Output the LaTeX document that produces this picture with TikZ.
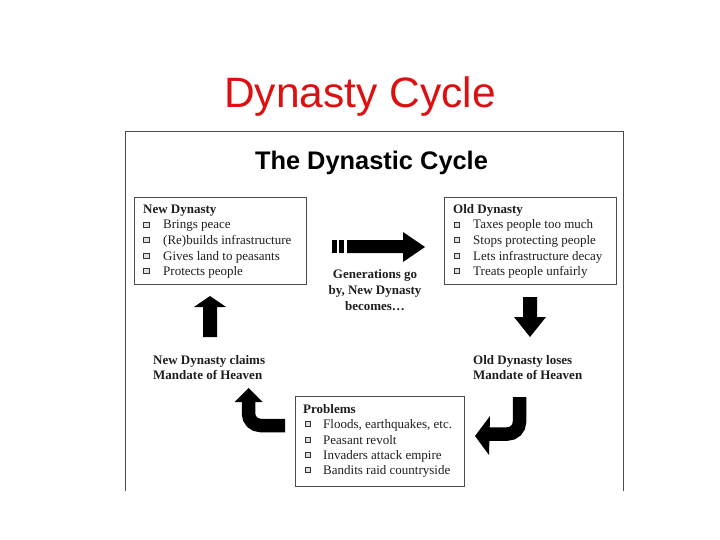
\documentclass[tikz,border=0pt]{standalone}
\usepackage{fontspec}
\setmainfont{Liberation Serif}
\newfontfamily\arialf{Liberation Sans}
\definecolor{titlered}{RGB}{220,16,16}
\definecolor{inkc}{RGB}{30,30,30}
\begin{document}
\begin{tikzpicture}[x=1pt,y=-1pt,
  box/.style={draw=black!70, line width=0.9pt, fill=white, inner sep=0pt},
  txt/.style={anchor=base west, inner sep=0pt, font=\fontsize{13}{15}\selectfont, text=inkc},
  hd/.style={txt, font=\fontsize{13}{15}\selectfont\bfseries},
  lbl/.style={anchor=base, inner sep=0pt, font=\fontsize{13}{15}\selectfont\bfseries, text=inkc},
  lblw/.style={lbl, anchor=base west},
  bul/.style={draw=black!80, fill=black!12, line width=0.9pt, minimum size=5.5pt, inner sep=0pt},
  blk/.style={fill=black},
  bentshaft/.style={draw=black, line width=13.5pt, rounded corners=12pt}]
\useasboundingbox (0,0) rectangle (720,540);

% slide title
\node[anchor=base, inner sep=0pt, font=\arialf\fontsize{42.5}{50}\selectfont, text=titlered] (slidetitle) at (360,108) {Dynasty Cycle};

% frame of the picture
\draw[black!70, line width=1pt] (125,491) -- (125,131.5) -- (623,131.5) -- (623,491);

% inner title
\node[anchor=base, inner sep=0pt, font=\arialf\bfseries\fontsize{25.4}{30}\selectfont] (maintitle) at (371.5,170) {The Dynastic Cycle};

% boxes
\node[box, minimum width=172pt, minimum height=87pt] (newbox) at (220,240.5) {};
\node[box, minimum width=172pt, minimum height=87pt] (oldbox) at (530,240.5) {};
\node[box, minimum width=169pt, minimum height=90pt] (probbox) at (379.5,441) {};

% New Dynasty
\node[hd] (newhd) at (143,214) {New Dynasty};
\node[bul] (nb1) at (146.5,225) {}; \node[txt] (n1) at (163,229) {Brings peace};
\node[bul] (nb2) at (146.5,240) {}; \node[txt] (n2) at (163,244) {(Re)builds infrastructure};
\node[bul] (nb3) at (146.5,256) {}; \node[txt] (n3) at (163,260) {Gives land to peasants};
\node[bul] (nb4) at (146.5,271) {}; \node[txt] (n4) at (163,275) {Protects people};

% Old Dynasty
\node[hd] (oldhd) at (453,214) {Old Dynasty};
\node[bul] (ob1) at (457,225) {}; \node[txt] (o1) at (473,229) {Taxes people too much};
\node[bul] (ob2) at (457,240) {}; \node[txt] (o2) at (473,244) {Stops protecting people};
\node[bul] (ob3) at (457,256) {}; \node[txt] (o3) at (473,260) {Lets infrastructure decay};
\node[bul] (ob4) at (457,271) {}; \node[txt] (o4) at (473,275) {Treats people unfairly};

% Problems
\node[hd] (probhd) at (303,413) {Problems};
\node[bul] (pb1) at (308,424) {}; \node[txt] (p1) at (323,428) {Floods, earthquakes, etc.};
\node[bul] (pb2) at (308,440) {}; \node[txt] (p2) at (323,444) {Peasant revolt};
\node[bul] (pb3) at (308,455) {}; \node[txt] (p3) at (323,459) {Invaders attack empire};
\node[bul] (pb4) at (308,470) {}; \node[txt] (p4) at (323,474) {Bandits raid countryside};

% labels
\node[lbl] (gen1) at (375,278) {Generations go};
\node[lbl] (gen2) at (375,294) {by, New Dynasty};
\node[lbl] (gen3) at (375,310) {becomes\ldots};
\node[lblw] (claim1) at (153,364) {New Dynasty claims};
\node[lblw] (claim2) at (153,379) {Mandate of Heaven};
\node[lblw] (lose1) at (473,364) {Old Dynasty loses};
\node[lblw] (lose2) at (473,379) {Mandate of Heaven};

% right arrow (generations go by)
\fill[blk] (347,240) -- (403,240) -- (403,232) -- (425,247) -- (403,262) -- (403,253) -- (347,253) -- cycle;
\fill[blk] (332,240) rectangle (337,253);
\fill[blk] (339,240) rectangle (344,253);

% down arrow (old dynasty loses mandate)
\fill[blk] (523,297) -- (537,297) -- (537,317) -- (546,317) -- (530,337) -- (514,317) -- (523,317) -- cycle;

% up arrow (new dynasty)
\fill[blk] (203,337) -- (203,307) -- (194,307) -- (210,296) -- (226,307) -- (217,307) -- (217,337) -- cycle;

% bent arrow left of problems
\coordinate (lbA) at (285,425.5);
\coordinate (lbB) at (248.5,425.5);
\coordinate (lbC) at (248.5,401);
\draw[bentshaft] (lbA) -- (lbB) -- (lbC);
\fill[blk] (234.5,402) -- (248.5,388) -- (262.5,402) -- cycle;

% bent arrow right of problems
\coordinate (rbA) at (519.5,397);
\coordinate (rbB) at (519.5,434);
\coordinate (rbC) at (488,434);
\draw[bentshaft] (rbA) -- (rbB) -- (rbC);
\fill[blk] (490,416) -- (475,436) -- (489,455) -- cycle;
\end{tikzpicture}
\end{document}
